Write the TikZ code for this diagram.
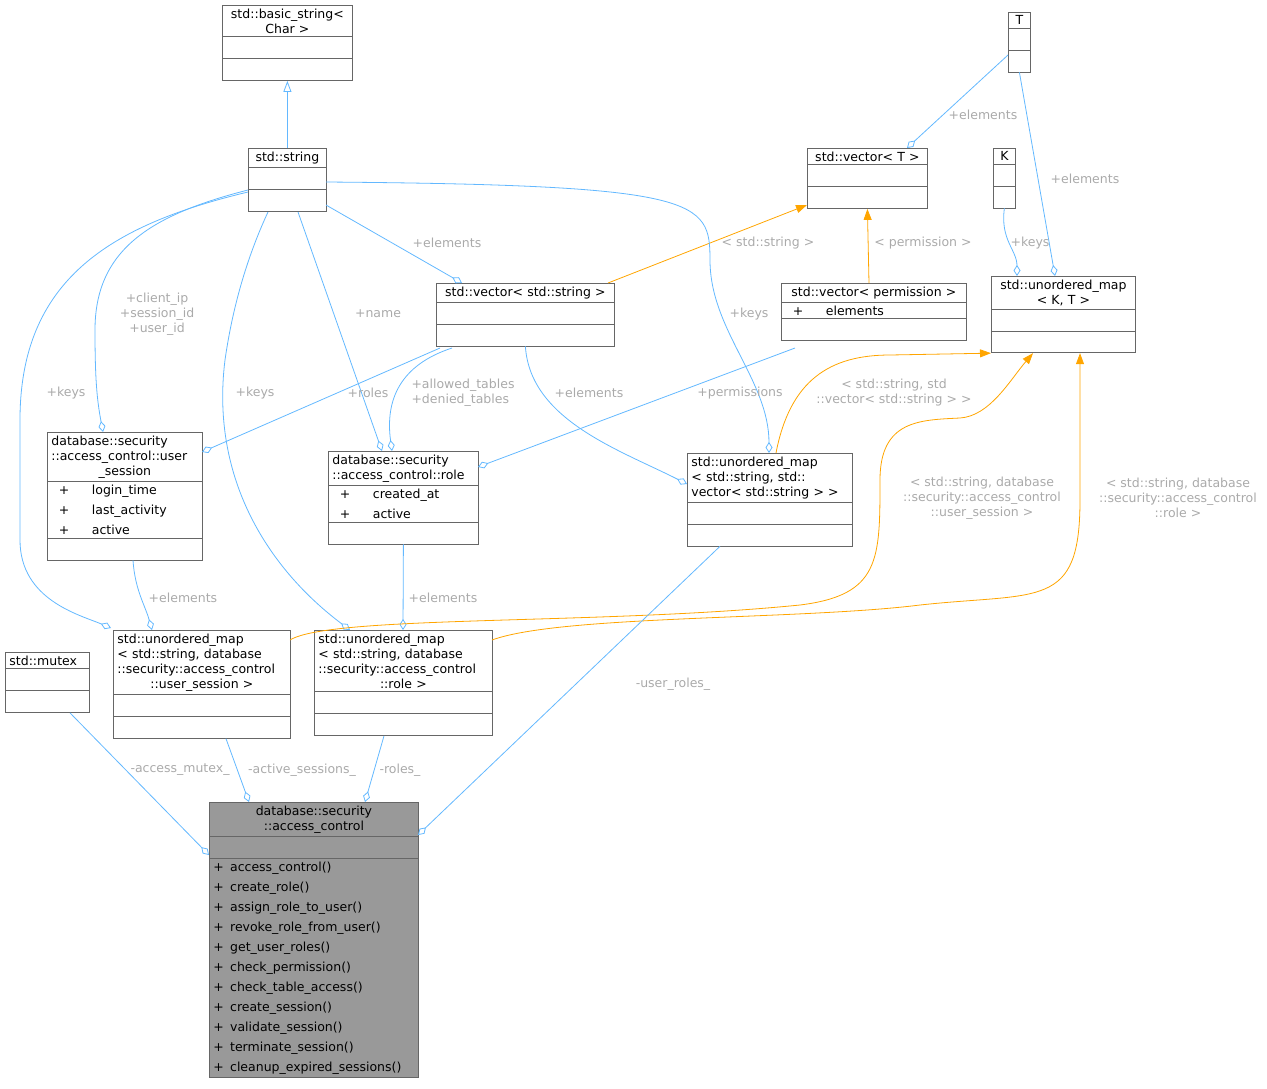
\documentclass[tikz,border=0pt]{standalone}
\usepackage{fontspec}
\setmainfont{DejaVu Sans}
\usetikzlibrary{shapes.multipart,arrows.meta,calc}
\definecolor{edgeblue}{HTML}{63B8FF}
\definecolor{tmplorange}{HTML}{FFA500}
\definecolor{boxline}{HTML}{666666}
\definecolor{labelgray}{HTML}{AAAAAA}
\definecolor{mainfill}{HTML}{999999}
\newcommand{\cl}[1]{\hfil#1\hfil}
\newcommand{\attr}[1]{\hspace{0.6em}+\hspace{1.8em}#1}
\newcommand{\meth}[1]{+\hspace{0.5em}#1}
\newcommand{\nl}{\\[5pt]}
\begin{document}
\begin{tikzpicture}[x=1pt,y=-1pt]
% Define styles
\tikzset{
  cls/.style={rectangle split, rectangle split parts=3, draw=boxline, fill=white,
    line width=0.8pt, anchor=north west, align=left, font=\fontsize{12.5}{15}\selectfont,
    inner xsep=4pt, inner ysep=3pt},
  agg/.style={draw=edgeblue, line width=0.8pt, {Diamond[open,length=11pt,width=7pt]}-},
  inh/.style={draw=edgeblue, line width=0.8pt, -{Triangle[open,length=11pt,width=8pt]}},
  tmpl/.style={draw=tmplorange, line width=0.8pt, -{Triangle[length=11pt,width=8pt,fill=tmplorange]}},
  lbl/.style={text=labelgray, font=\fontsize{12.5}{15}\selectfont, align=center, inner sep=1pt}
}
\useasboundingbox (0,0) rectangle (1267,1088);

% Draw class boxes
\node [cls, text width=122pt] (bs) at (222,5) {\cl{std::basic\_string<}\\\cl{Char >}\nodepart{two}\strut\nodepart{three}\strut};
\node [cls, text width=70pt] (str) at (248,148) {\cl{std::string}\nodepart{two}\strut\nodepart{three}\strut};
\node [cls, text width=14pt] (T) at (1008,12) {\cl{T}\nodepart{two}\strut\nodepart{three}\strut};
\node [cls, text width=112pt] (vecT) at (807,148) {\cl{std::vector< T >}\nodepart{two}\strut\nodepart{three}\strut};
\node [cls, text width=14pt] (K) at (993,148) {\cl{K}\nodepart{two}\strut\nodepart{three}\strut};
\node [cls, text width=136pt] (umKT) at (991,276) {\cl{std::unordered\_map}\\\cl{< K, T >}\nodepart{two}\strut\nodepart{three}\strut};
\node [cls, text width=170pt] (vecs) at (436,283) {\cl{std::vector< std::string >}\nodepart{two}\strut\nodepart{three}\strut};
\node [cls, text width=177pt] (vecp) at (781,283) {\cl{std::vector< permission >}\nodepart{two}\attr{elements}\nodepart{three}\strut};
\node [cls, text width=147pt] (us) at (47,432) {database::security\\::access\_control::user\\\cl{\_session}\nodepart{two}\attr{login\_time}\nl\attr{last\_activity}\nl\attr{active}\nodepart{three}\strut};
\node [cls, text width=142pt] (role) at (328,451) {database::security\\::access\_control::role\nodepart{two}\attr{created\_at}\nl\attr{active}\nodepart{three}\strut};
\node [cls, text width=157pt] (umsv) at (687,453) {std::unordered\_map\\< std::string, std::\\vector< std::string > >\nodepart{two}\strut\nodepart{three}\strut};
\node [cls, text width=76pt] (mtx) at (5,652) {std::mutex\nodepart{two}\strut\nodepart{three}\strut};
\node [cls, text width=169pt] (umus) at (113,630) {std::unordered\_map\\< std::string, database\\::security::access\_control\\\cl{::user\_session >}\nodepart{two}\strut\nodepart{three}\strut};
\node [cls, text width=170pt] (umr) at (314,630) {std::unordered\_map\\< std::string, database\\::security::access\_control\\\cl{::role >}\nodepart{two}\strut\nodepart{three}\strut};
\node [cls, fill=mainfill, text width=201pt] (ac) at (209,802) {\cl{database::security}\\\cl{::access\_control}\nodepart{two}\strut\nodepart{three}%
\meth{access\_control()}\nl\meth{create\_role()}\nl\meth{assign\_role\_to\_user()}\nl\meth{revoke\_role\_from\_user()}\nl\meth{get\_user\_roles()}\nl\meth{check\_permission()}\nl\meth{check\_table\_access()}\nl\meth{create\_session()}\nl\meth{validate\_session()}\nl\meth{terminate\_session()}\nl\meth{cleanup\_expired\_sessions()}};

% Draw connectors
\draw [inh] (str.north) -- (bs.south);
\draw [agg] ($(vecT.north west)+(100,0)$) -- ($(T.north west)+(0,43)$);
\draw [agg] ($(umKT.north west)+(64,0)$) -- (T.south);
\draw [agg] ($(umKT.north west)+(26,0)$) .. controls (1017,250) and (1000,240) .. (K.south);
\draw [agg] ($(vecs.north west)+(26,0)$) -- ($(str.north west)+(78,57)$);
\draw [tmpl] ($(vecs.north west)+(172,0)$) -- ($(vecT.north west)+(0,57)$);
\draw [tmpl] ($(vecp.north west)+(88,0)$) -- (vecT.south);
\draw [agg] ($(umsv.north west)+(82,0)$) .. controls (769,380) and (710,330) .. (710,260) .. controls (710,200) and (700,185) .. ($(str.north west)+(78,34)$);
\draw [agg] ($(umsv.north west)+(0,31)$) .. controls (620,450) and (530,420) .. (vecs.south);
\draw [agg] ($(role.north west)+(150,16)$) -- ($(vecp.north west)+(14,65)$);
\draw [agg] ($(us.north west)+(155,20)$) -- ($(vecs.north west)+(4,65)$);
\draw [agg] ($(role.north west)+(64,0)$) .. controls (385,400) and (400,365) .. ($(vecs.north west)+(16,65)$);
\draw [agg] ($(role.north west)+(54,0)$) -- ($(str.north west)+(50,64)$);
\draw [agg] ($(us.north west)+(56,0)$) .. controls (97,400) and (95,380) .. (95,330) .. controls (95,250) and (150,215) .. ($(str.north west)+(0,42)$);
\draw [agg] ($(umus.north west)+(-2,-2)$) .. controls (80,615) and (20,600) .. (20,540) -- (20,420) .. controls (20,280) and (110,225) .. ($(str.north west)+(0,44)$);
\draw [agg] ($(umr.north west)+(36,0)$) .. controls (270,570) and (210,480) .. (225,360) .. controls (235,290) and (255,240) .. ($(str.north west)+(20,64)$);
\draw [agg] ($(umus.north west)+(39,0)$) .. controls (145,605) and (135,590) .. ($(us.south west)+(86,0)$);
\draw [agg] ($(umr.north west)+(89,0)$) -- (role.south);
\draw [tmpl] ($(umsv.north west)+(89,0)$) .. controls (790,380) and (830,355) .. (890,355) -- (umKT.south west);
\draw [tmpl] ($(umus.north west)+(177,10)$) .. controls (330,615) and (600,625) .. (800,605) .. controls (880,595) and (880,560) .. (880,480) .. controls (880,420) and (920,420) .. (960,418) .. controls (990,416) and (1010,380) .. ($(umKT.south west)+(42,0)$);
\draw [tmpl] ($(umr.north west)+(178,10)$) .. controls (560,615) and (800,620) .. (920,605) .. controls (1040,592) and (1080,610) .. (1080,500) -- ($(umKT.south west)+(89,0)$);
\draw [agg] ($(ac.north west)+(0,53)$) -- ($(mtx.south west)+(65,0)$);
\draw [agg] ($(ac.north west)+(40,0)$) -- ($(umus.south west)+(113,0)$);
\draw [agg] ($(ac.north west)+(156,0)$) -- ($(umr.south west)+(70,0)$);
\draw [agg] ($(ac.north west)+(209,33)$) -- ($(umsv.south west)+(33,0)$);

% Add edge labels
\node [lbl] (l1) at (983,115) {+elements};
\node [lbl] (l2) at (1085,179) {+elements};
\node [lbl] (l3) at (1030,243) {+keys};
\node [lbl] (l4) at (447,243) {+elements};
\node [lbl] (l5) at (768,243) {< std::string >};
\node [lbl] (l6) at (923,243) {< permission >};
\node [lbl] (l7) at (749,314) {+keys};
\node [lbl] (l8) at (589,393) {+elements};
\node [lbl] (l9) at (740,393) {+permissions};
\node [lbl] (l10) at (368,393) {+roles};
\node [lbl, align=left] (l11) at (463,393) {+allowed\_tables\\+denied\_tables};
\node [lbl] (l12) at (378,314) {+name};
\node [lbl] (l13) at (157,314) {+client\_ip\\+session\_id\\+user\_id};
\node [lbl] (l14) at (66,393) {+keys};
\node [lbl] (l15) at (255,393) {+keys};
\node [lbl] (l16) at (183,598) {+elements};
\node [lbl] (l17) at (443,598) {+elements};
\node [lbl] (l18) at (894,393) {< std::string, std\\::vector< std::string > >};
\node [lbl] (l19) at (982,498) {< std::string, database\\::security::access\_control\\::user\_session >};
\node [lbl] (l20) at (1178,498) {< std::string, database\\::security::access\_control\\::role >};
\node [lbl] (l21) at (180,770) {-access\_mutex\_};
\node [lbl] (l22) at (302,770) {-active\_sessions\_};
\node [lbl] (l23) at (400,770) {-roles\_};
\node [lbl] (l24) at (673,684) {-user\_roles\_};
\end{tikzpicture}
\end{document}
